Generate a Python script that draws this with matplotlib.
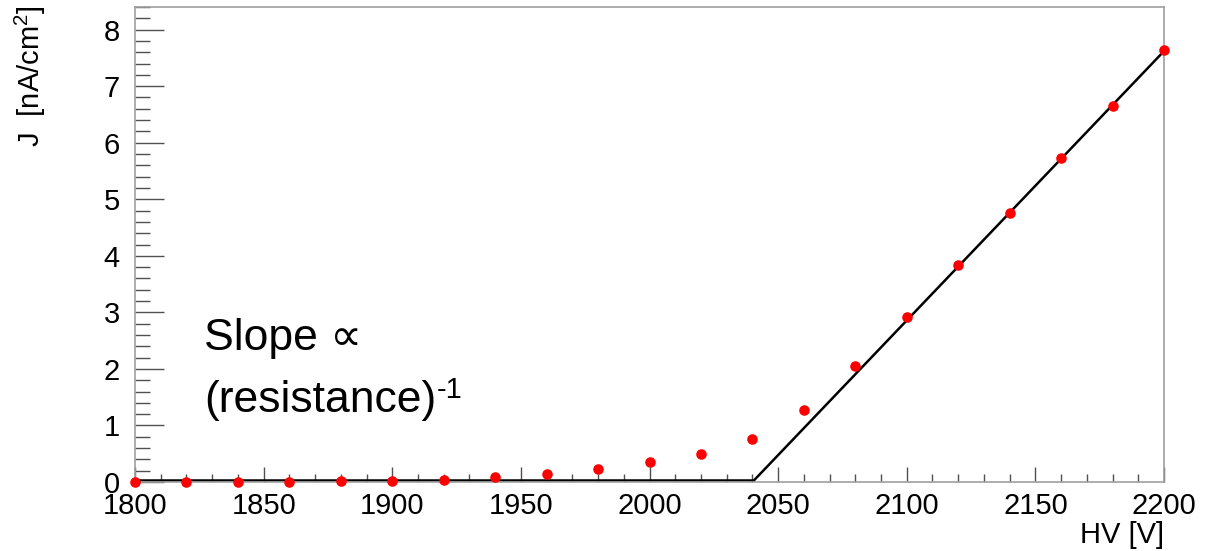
import matplotlib
matplotlib.use('Agg')
import matplotlib.pyplot as plt
from matplotlib.ticker import MultipleLocator

plt.rcParams['font.family'] = ['Liberation Sans', 'DejaVu Sans']
plt.rcParams['mathtext.fontset'] = 'custom'
plt.rcParams['mathtext.rm'] = 'Liberation Sans'
plt.rcParams['mathtext.it'] = 'Liberation Sans'

# measured points
hv = [1800, 1820, 1840, 1860, 1880, 1900, 1920, 1940, 1960, 1980, 2000,
      2020, 2040, 2060, 2080, 2100, 2120, 2140, 2160, 2180, 2200]
j = [0.0, 0.0, 0.0, 0.0, 0.01, 0.01, 0.03, 0.08, 0.14, 0.23, 0.35,
     0.5, 0.76, 1.28, 2.05, 2.92, 3.84, 4.76, 5.73, 6.65, 7.64]

# fit lines
flat_x = [1800, 2040]
flat_y = [0.03, 0.03]
lin_x = [2040, 2200]
lin_y = [0.0, 7.62]

fig = plt.figure(figsize=(12.12, 5.51), dpi=100)
ax = fig.add_axes([0.1114, 0.1252, 0.849, 0.8621])

ax.plot(flat_x, flat_y, color='black', lw=1.8, zorder=2)
ax.plot(lin_x, lin_y, color='black', lw=1.8, zorder=2)
ax.plot(hv, j, 'o', color='#ff0000', ms=7.6, mec='none', zorder=3, clip_on=False)

ax.set_xlim(1800, 2200)
ax.set_ylim(0, 8.4)

ax.xaxis.set_major_locator(MultipleLocator(50))
ax.xaxis.set_minor_locator(MultipleLocator(10))
ax.yaxis.set_major_locator(MultipleLocator(1))
ax.yaxis.set_minor_locator(MultipleLocator(0.2))

for s in ax.spines.values():
    s.set_color('#a0a0a0')
    s.set_linewidth(1.2)

ax.tick_params(axis='both', which='both', direction='in', colors='#505050',
               labelcolor='black', labelsize=21, width=1.0)
ax.tick_params(axis='x', which='major', length=11, pad=7)
ax.tick_params(axis='x', which='minor', length=6)
ax.tick_params(axis='y', which='major', length=21, pad=11)
ax.tick_params(axis='y', which='minor', length=11)

ax.text(0.0675, 0.278, 'Slope \u221d', transform=ax.transAxes, fontsize=32,
        ha='left', va='baseline')
res = ax.text(0.0675, 0.147, '(resistance)', transform=ax.transAxes,
              fontsize=32, ha='left', va='baseline')
ax.annotate('-1', xy=(1, 1), xycoords=res, xytext=(0, 3),
            textcoords='offset points', fontsize=21, ha='left', va='top')

fig.text(0.025, 0.99, 'J  [nA/cm$^{\\mathregular{2}}$]', rotation=90,
         ha='center', va='top', fontsize=21)
fig.text(1164 / 1212, 1 - 535 / 551, 'HV [V]', ha='right', va='center', fontsize=21)

fig.savefig('out.png', dpi=100, facecolor='white')
